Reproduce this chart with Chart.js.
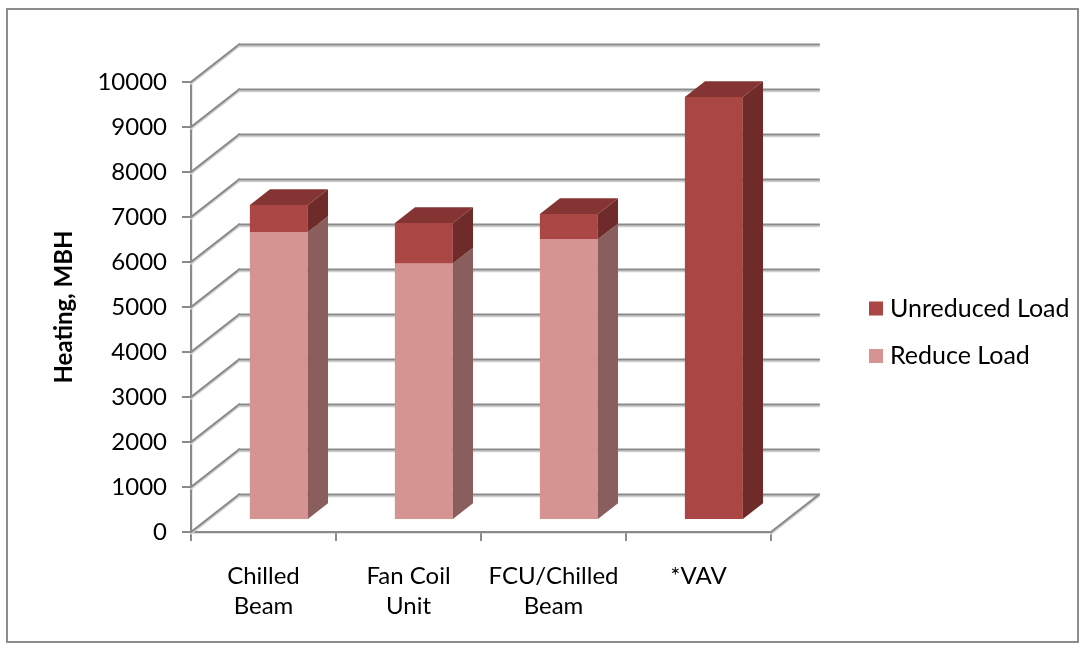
<!DOCTYPE html>
<html>
<head>
<meta charset="utf-8">
<script src="https://cdn.jsdelivr.net/npm/chart.js@4.4.1/dist/chart.umd.min.js"></script>
<style>
  html, body { margin: 0; padding: 0; background: #ffffff; }
  canvas { display: block; }
</style>
</head>
<body>
<canvas id="chart" width="1085" height="650"></canvas>
<script>
// Heating load per system type (MBH), stacked: reduced part + remaining unreduced part
const categories = [['Chilled', 'Beam'], ['Fan Coil', 'Unit'], ['FCU/Chilled', 'Beam'], '*VAV'];
const reduceLoad = [6400, 5700, 6240, 0];
const unreducedLoad = [600, 900, 560, 9400];
const seriesNames = ['Reduce Load', 'Unreduced Load'];
const yMin = 0;
const yMax = 10000;
const yStep = 1000;
const axisTitle = 'Heating, MBH';

const FONT = 'Lato, "Open Sans", sans-serif';
const LINE = '#8a8a8a';
const LINE_SHADE = '#cfcfcf';

// Face colours for each series: front, right side, top
const faces = [
  { front: '#D59392', side: '#8A5E5D', top: '#A87371' },
  { front: '#AA4644', side: '#6E2B2A', top: '#843533' }
];

// Oblique depth of the floor/side wall and where the columns sit inside it
const WALL = { dx: 48, dy: 37.5 };
const BAR_FRONT = 0.32;
const BAR_BACK = 0.74;

function wallLine(ctx, x1, y1, x2, y2) {
  ctx.save();
  ctx.lineCap = 'round';
  ctx.strokeStyle = LINE_SHADE;
  ctx.lineWidth = 2;
  ctx.beginPath();
  ctx.moveTo(x1, y1 + 1.8);
  ctx.lineTo(x2, y2 + 1.8);
  ctx.stroke();
  ctx.strokeStyle = LINE;
  ctx.lineWidth = 2.2;
  ctx.beginPath();
  ctx.moveTo(x1, y1);
  ctx.lineTo(x2, y2);
  ctx.stroke();
  ctx.restore();
}

function poly(ctx, pts, color) {
  ctx.beginPath();
  ctx.moveTo(pts[0][0], pts[0][1]);
  for (let i = 1; i < pts.length; i++) ctx.lineTo(pts[i][0], pts[i][1]);
  ctx.closePath();
  ctx.fillStyle = color;
  ctx.fill();
}

const depthPlugin = {
  id: 'depth3d',
  beforeDraw(chart) {
    const ctx = chart.ctx;
    ctx.save();
    ctx.fillStyle = '#ffffff';
    ctx.fillRect(0, 0, chart.width, chart.height);
    ctx.strokeStyle = '#8c8c8c';
    ctx.lineWidth = 2;
    ctx.strokeRect(7, 9, chart.width - 14, chart.height - 17);
    ctx.restore();
  },
  beforeDatasetsDraw(chart) {
    const ctx = chart.ctx;
    const ys = chart.scales.y;
    const xs = chart.scales.x;
    const L = xs.left, R = xs.right;
    // side wall diagonals and back wall gridlines
    for (let v = yMin; v <= yMax; v += yStep) {
      const py = ys.getPixelForValue(v);
      wallLine(ctx, L, py, L + WALL.dx, py - WALL.dy);
      wallLine(ctx, L + WALL.dx, py - WALL.dy, R + WALL.dx, py - WALL.dy);
    }
    // floor right edge
    const p0 = ys.getPixelForValue(yMin);
    wallLine(ctx, R, p0, R + WALL.dx, p0 - WALL.dy);
  },
  afterDatasetsDraw(chart) {
    const ctx = chart.ctx;
    const ox = WALL.dx * BAR_FRONT, oy = WALL.dy * BAR_FRONT;
    const ddx = WALL.dx * (BAR_BACK - BAR_FRONT), ddy = WALL.dy * (BAR_BACK - BAR_FRONT);
    const nSets = chart.data.datasets.length;
    const nCats = chart.data.labels.length;
    ctx.save();
    for (let i = 0; i < nCats; i++) {
      // topmost non-empty segment gets the lid
      let topIdx = -1;
      for (let d = 0; d < nSets; d++) {
        if (chart.data.datasets[d].data[i] > 0) topIdx = d;
      }
      for (let d = 0; d < nSets; d++) {
        const val = chart.data.datasets[d].data[i];
        if (!(val > 0)) continue;
        const el = chart.getDatasetMeta(d).data[i];
        const props = el.getProps(['x', 'y', 'base', 'width'], true);
        const left = props.x - props.width / 2 + ox;
        const right = props.x + props.width / 2 + ox;
        const top = props.y - oy;
        const bottom = props.base - oy;
        const f = faces[d];
        poly(ctx, [[left, top], [right, top], [right, bottom], [left, bottom]], f.front);
        poly(ctx, [[right, top], [right + ddx, top - ddy], [right + ddx, bottom - ddy], [right, bottom]], f.side);
        if (d === topIdx) {
          poly(ctx, [[left, top], [left + ddx, top - ddy], [right + ddx, top - ddy], [right, top]], f.top);
        }
      }
    }
    ctx.restore();
  },
  afterDraw(chart) {
    // legend, listed top-down in stacking order
    const ctx = chart.ctx;
    ctx.save();
    ctx.font = '25px ' + FONT;
    ctx.textBaseline = 'middle';
    ctx.textAlign = 'left';
    const order = [1, 0];
    order.forEach((d, k) => {
      const cy = 308.5 + k * 47.5;
      ctx.fillStyle = faces[d].front;
      ctx.fillRect(869, cy - 7, 14, 14);
      ctx.fillStyle = '#000000';
      ctx.fillText(chart.data.datasets[d].label, 890, cy);
    });
    ctx.restore();
  }
};

const PAD_LEFT = 40;
const PAD_TOP = 82;
const PAD_RIGHT = 314;

new Chart(document.getElementById('chart'), {
  type: 'bar',
  data: {
    labels: categories,
    datasets: [
      { label: seriesNames[0], data: reduceLoad, backgroundColor: 'rgba(0,0,0,0)', borderWidth: 0 },
      { label: seriesNames[1], data: unreducedLoad, backgroundColor: 'rgba(0,0,0,0)', borderWidth: 0 }
    ]
  },
  options: {
    responsive: false,
    devicePixelRatio: 1,
    animation: false,
    layout: { padding: { left: PAD_LEFT, top: PAD_TOP, right: PAD_RIGHT, bottom: 0 } },
    plugins: {
      legend: { display: false },
      tooltip: { enabled: false },
      title: { display: false }
    },
    datasets: { bar: { categoryPercentage: 1, barPercentage: 0.4 } },
    scales: {
      x: {
        stacked: true,
        afterFit(s) { s.height = 650 - 532; },
        grid: {
          display: true, drawOnChartArea: false, drawTicks: true, offset: true,
          tickLength: 9, color: LINE, lineWidth: 2
        },
        border: { display: true, color: LINE, width: 2.2 },
        ticks: {
          color: '#000000', padding: 20, maxRotation: 0, autoSkip: false,
          font: { family: FONT, size: 24, lineHeight: 1.25 }
        }
      },
      y: {
        stacked: true,
        min: yMin,
        max: yMax,
        afterFit(s) { s.width = 191 - PAD_LEFT; },
        grid: {
          display: true, drawOnChartArea: false, drawTicks: true,
          tickLength: 9, color: LINE, lineWidth: 2
        },
        border: { display: true, color: LINE, width: 2.2 },
        ticks: {
          stepSize: yStep, color: '#000000', padding: 15,
          font: { family: FONT, size: 24 },
          callback: (v) => String(v)
        },
        title: {
          display: true, text: axisTitle, color: '#000000',
          padding: { top: 10, bottom: 0 },
          font: { family: FONT, size: 24, weight: 'bold' }
        }
      }
    }
  },
  plugins: [depthPlugin]
});
</script>
</body>
</html>
